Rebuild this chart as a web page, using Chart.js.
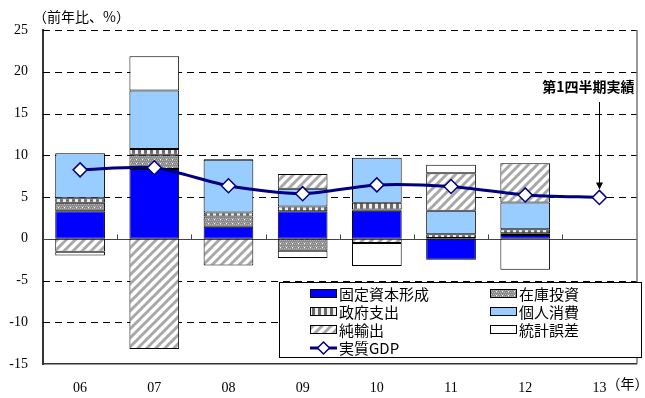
<!DOCTYPE html>
<html>
<head>
<meta charset="utf-8">
<script src="https://cdn.jsdelivr.net/npm/chart.js@4/dist/chart.umd.min.js"></script>
<style>
  html, body { margin: 0; padding: 0; background: #fff; }
  #wrap { width: 645px; height: 398px; }
</style>
</head>
<body>
<div id="wrap"><canvas id="chart" width="645" height="398"></canvas></div>
<script>
const years = ['06', '07', '08', '09', '10', '11', '12', '13']
const yTicks = [25, 20, 15, 10, 5, 0, -5, -10, -15]

// 寄与度 (前年比、%)
const fixedCapital = [3.3, 8.35, 1.45, 3.3, 3.35, -2.5, 0.45, null]
const inventory    = [1.0, 1.7, 1.2, -1.45, 0.15, 0.1, 0.2, null]
const government   = [0.55, 0.7, 0.5, 0.55, 0.8, 0.45, 0.5, null]
const consumption  = [5.4, 7.0, 6.3, 2.15, 5.4, 2.8, 3.2, null]
const netExports   = [-1.55, -13.2, -3.2, 1.75, -0.5, 4.5, 4.7, null]
const discrepancy  = [-0.45, 4.1, 0.1, -0.85, -2.75, 1.0, -3.7, null]
const realGdp      = [8.25, 8.5, 6.35, 5.4, 6.45, 6.25, 5.25, 4.95]

const labels = {
    fixed: '固定資本形成',
    inv: '在庫投資',
    gov: '政府支出',
    cons: '個人消費',
    nx: '純輸出',
    disc: '統計誤差',
    gdp: '実質GDP'
}

const canvas = document.getElementById('chart')
const ctx = canvas.getContext('2d')

function makePattern(w, h, draw) {
    const c = document.createElement('canvas')
    c.width = w
    c.height = h
    draw(c.getContext('2d'), w, h)
    return ctx.createPattern(c, 'repeat')
}

const invPattern = makePattern(6, 4, (g, w, h) => {
    g.fillStyle = '#8a8a8a'
    g.fillRect(0, 0, w, h)
    g.fillStyle = '#b5b5b5'
    g.fillRect(0, 0, 1, 1); g.fillRect(2, 0, 1, 1); g.fillRect(4, 0, 1, 1)
    g.fillRect(1, 2, 1, 1); g.fillRect(3, 2, 1, 1); g.fillRect(5, 2, 1, 1)
    g.fillStyle = '#ffffff'
    g.fillRect(4, 3, 1, 1)
})

const govPattern = makePattern(6, 4, (g, w, h) => {
    g.fillStyle = '#f0f0f0'
    g.fillRect(0, 0, w, h)
    g.fillStyle = '#6a6a6a'
    g.fillRect(0, 0, 3, h)
})

const nxPattern = makePattern(9, 9, (g, w, h) => {
    g.fillStyle = '#ffffff'
    g.fillRect(0, 0, w, h)
    g.strokeStyle = '#a8a8a8'
    g.lineWidth = 3
    g.beginPath()
    g.moveTo(-1, h + 1); g.lineTo(w + 1, -1)
    g.moveTo(-w / 2 - 1, h / 2 + 1); g.lineTo(w / 2 + 1, -h / 2 - 1)
    g.moveTo(w / 2 - 1, h * 1.5 + 1); g.lineTo(w * 1.5 + 1, h / 2 - 1)
    g.stroke()
})

const FIXED_COLOR = '#0000ff'
const CONS_COLOR = '#99ccff'
const GDP_COLOR = '#000080'
const SERIF = '"Liberation Serif", "Times New Roman", serif'
const CJK = '"Noto Sans CJK JP", sans-serif'

function barSet(label, data, fill) {
    return {
        type: 'bar',
        label,
        data,
        backgroundColor: fill,
        borderColor: '#000000',
        borderWidth: 1,
        borderSkipped: false,
        barPercentage: 1,
        categoryPercentage: 0.67,
        stack: 'bars',
        order: 1
    }
}

const decorPlugin = {
    id: 'decor',
    beforeDatasetsDraw(chart) {
        const { ctx, chartArea, scales: { x, y } } = chart
        ctx.save()
        // dashed grid lines
        ctx.strokeStyle = '#000000'
        ctx.lineWidth = 1
        ctx.setLineDash([7, 5])
        yTicks.forEach(v => {
            if (v === 0 || v === -15) return
            const py = Math.round(y.getPixelForValue(v)) + 0.5
            ctx.beginPath()
            ctx.moveTo(chartArea.left, py)
            ctx.lineTo(chartArea.right, py)
            ctx.stroke()
        })
        ctx.setLineDash([])
        // zero line
        const y0 = Math.round(y.getPixelForValue(0)) + 0.5
        ctx.strokeStyle = '#444444'
        ctx.beginPath()
        ctx.moveTo(chartArea.left, y0)
        ctx.lineTo(chartArea.right, y0)
        ctx.stroke()
        // category tick marks on zero line
        const step = (chartArea.right - chartArea.left) / years.length
        for (let i = 1; i < years.length; i++) {
            const px = Math.round(chartArea.left + i * step) + 0.5
            ctx.beginPath()
            ctx.moveTo(px, y0 - 5)
            ctx.lineTo(px, y0)
            ctx.stroke()
        }
        // right border
        ctx.strokeStyle = '#333333'
        ctx.beginPath()
        ctx.moveTo(chartArea.right + 0.5, chartArea.top)
        ctx.lineTo(chartArea.right + 0.5, chartArea.bottom)
        ctx.stroke()
        ctx.restore()
    },
    afterDraw(chart) {
        const { ctx, chartArea, scales: { x, y } } = chart
        ctx.save()

        // unit label
        ctx.fillStyle = '#000000'
        ctx.font = '14px ' + CJK
        ctx.textBaseline = 'middle'
        ctx.textAlign = 'left'
        ctx.fillText('（前年比、%）', 33, 17)

        // year unit after last tick
        ctx.font = '14px ' + CJK
        ctx.fillText('（年）', x.getPixelForValue(7) + 7, 384)

        // annotation + arrow
        ctx.font = 'bold 14px ' + CJK
        ctx.textAlign = 'right'
        ctx.fillText('第1四半期実績', chartArea.right - 2, 87)
        const ax = Math.round(x.getPixelForValue(7)) + 0.5
        const ayEnd = y.getPixelForValue(realGdp[7]) - 9
        ctx.strokeStyle = '#000000'
        ctx.lineWidth = 1
        ctx.beginPath()
        ctx.moveTo(ax, 102)
        ctx.lineTo(ax, ayEnd - 4)
        ctx.stroke()
        ctx.fillStyle = '#000000'
        ctx.beginPath()
        ctx.moveTo(ax - 3.5, ayEnd - 6)
        ctx.lineTo(ax + 3.5, ayEnd - 6)
        ctx.lineTo(ax, ayEnd + 1)
        ctx.closePath()
        ctx.fill()

        // legend box
        const bx = 279.5, by = 282.5, bw = 362, bh = 75
        ctx.fillStyle = '#ffffff'
        ctx.fillRect(bx, by, bw, bh)
        ctx.strokeStyle = '#000000'
        ctx.strokeRect(bx, by, bw, bh)

        const rows = [294, 312, 330, 348]
        const items = [
            [310, rows[0], FIXED_COLOR, labels.fixed],
            [490, rows[0], invPattern, labels.inv],
            [310, rows[1], govPattern, labels.gov],
            [490, rows[1], CONS_COLOR, labels.cons],
            [310, rows[2], nxPattern, labels.nx],
            [490, rows[2], '#ffffff', labels.disc]
        ]
        ctx.font = '15px ' + CJK
        ctx.textAlign = 'left'
        ctx.textBaseline = 'middle'
        items.forEach(([sx, sy, fill, text]) => {
            ctx.fillStyle = fill
            ctx.fillRect(sx + 0.5, sy - 4.5, 26, 8)
            ctx.strokeStyle = '#000000'
            ctx.strokeRect(sx + 0.5, sy - 4.5, 26, 8)
            ctx.fillStyle = '#000000'
            ctx.fillText(text, sx + 29, sy)
        })
        // GDP legend entry
        const gy = rows[3]
        ctx.strokeStyle = GDP_COLOR
        ctx.lineWidth = 3
        ctx.beginPath()
        ctx.moveTo(310, gy)
        ctx.lineTo(337, gy)
        ctx.stroke()
        ctx.lineWidth = 1.5
        ctx.fillStyle = '#ffffff'
        ctx.beginPath()
        ctx.moveTo(323.5, gy - 6)
        ctx.lineTo(329.5, gy)
        ctx.lineTo(323.5, gy + 6)
        ctx.lineTo(317.5, gy)
        ctx.closePath()
        ctx.fill()
        ctx.stroke()
        ctx.fillStyle = '#000000'
        ctx.fillText(labels.gdp, 339, gy)

        ctx.restore()
    }
}

new Chart(ctx, {
    data: {
        labels: years,
        datasets: [
            {
                type: 'line',
                label: labels.gdp,
                data: realGdp,
                borderColor: GDP_COLOR,
                borderWidth: 3,
                tension: 0.25,
                pointStyle: 'rectRot',
                pointRadius: 7,
                pointBackgroundColor: '#ffffff',
                pointBorderColor: GDP_COLOR,
                pointBorderWidth: 1.5,
                stack: 'line',
                order: 0
            },
            barSet(labels.fixed, fixedCapital, FIXED_COLOR),
            barSet(labels.inv, inventory, invPattern),
            barSet(labels.gov, government, govPattern),
            barSet(labels.cons, consumption, CONS_COLOR),
            barSet(labels.nx, netExports, nxPattern),
            barSet(labels.disc, discrepancy, '#ffffff')
        ]
    },
    options: {
        responsive: false,
        animation: false,
        layout: { padding: { top: 30, right: 4, left: 0, bottom: 0 } },
        plugins: {
            legend: { display: false },
            tooltip: { enabled: false }
        },
        scales: {
            x: {
                stacked: true,
                grid: { display: false },
                border: { display: true, color: '#333333', width: 1.5 },
                ticks: {
                    color: '#000000',
                    font: { family: SERIF, size: 14 },
                    padding: 8,
                    maxRotation: 0
                },
                afterFit(axis) { axis.height = 34 }
            },
            y: {
                stacked: true,
                min: -15,
                max: 25,
                grid: { display: false, drawTicks: false },
                border: { display: true, color: '#333333', width: 2 },
                ticks: {
                    stepSize: 5,
                    color: '#000000',
                    font: { family: SERIF, size: 14 },
                    padding: 15
                },
                afterFit(axis) { axis.width = 43 }
            }
        }
    },
    plugins: [decorPlugin]
})
</script>
</body>
</html>
